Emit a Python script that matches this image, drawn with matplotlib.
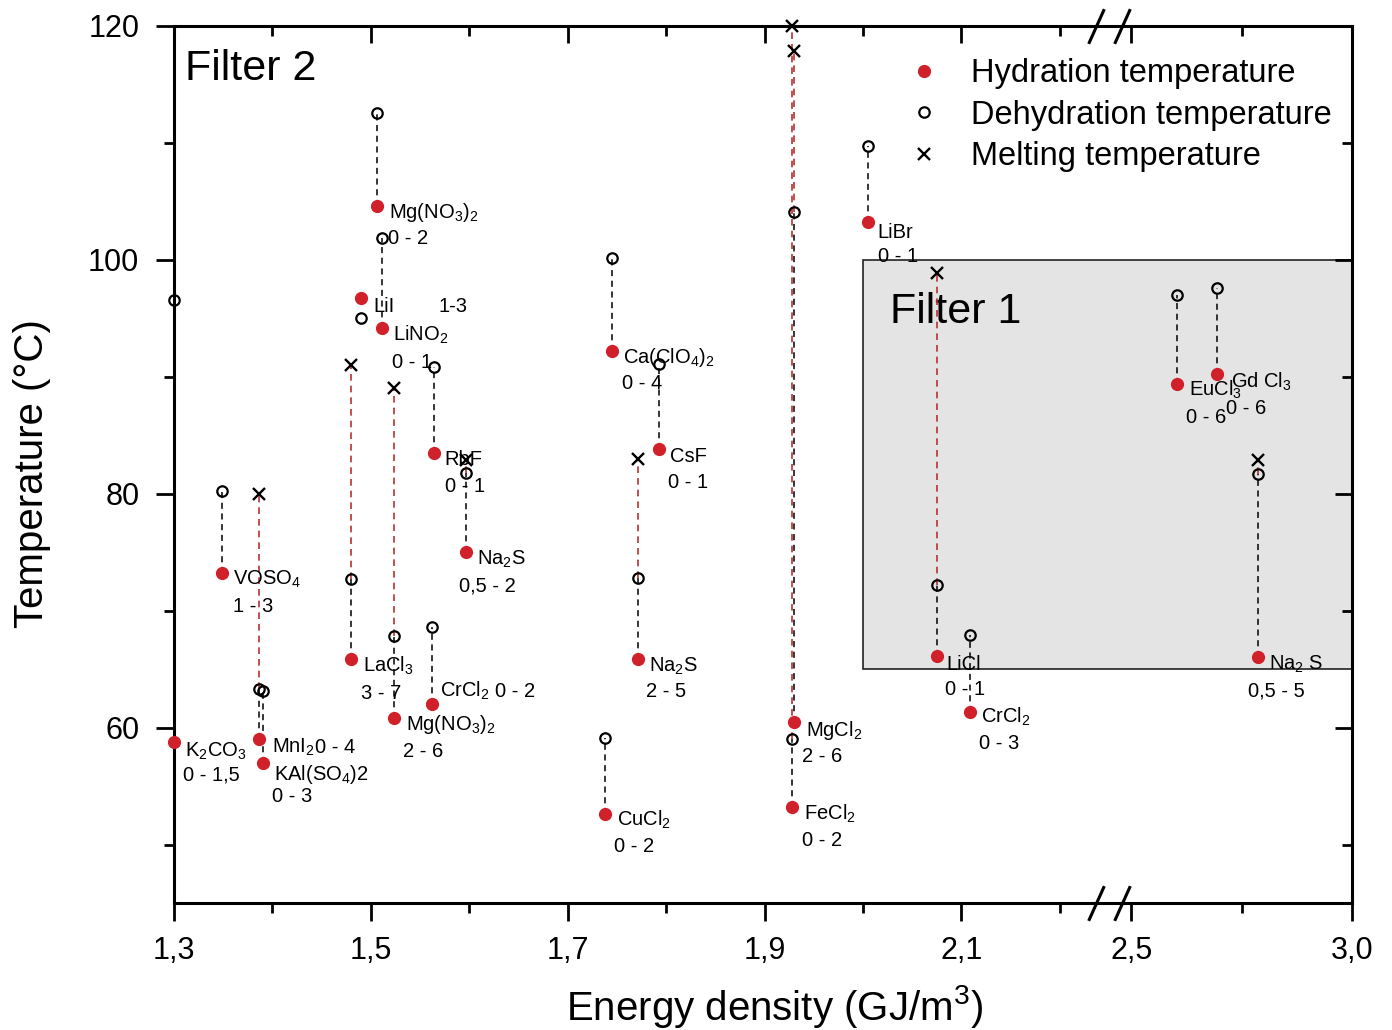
import numpy as np
import matplotlib
matplotlib.use("Agg")
import matplotlib.pyplot as plt
from matplotlib.patches import Rectangle
from matplotlib.ticker import FixedLocator, FixedFormatter

plt.rcParams["font.family"] = ["Liberation Sans", "DejaVu Sans"]
plt.rcParams["mathtext.fontset"] = "custom"
plt.rcParams["mathtext.rm"] = "Liberation Sans"
plt.rcParams["mathtext.it"] = "Liberation Sans:italic"
plt.rcParams["mathtext.bf"] = "Liberation Sans:bold"

# salt hydrates: energy density (GJ/m3), temperatures (°C), hydration steps
names = ["K$_2$CO$_3$", "VOSO$_4$", "MnI$_2$", "KAl(SO$_4$)2", "LaCl$_3$", "LiI",
         "Mg(NO$_3$)$_2$", "LiNO$_2$", "Mg(NO$_3$)$_2$", "CrCl$_2$", "RbF", "Na$_2$S",
         "CuCl$_2$", "Ca(ClO$_4$)$_2$", "Na$_2$S", "CsF", "FeCl$_2$", "MgCl$_2$",
         "LiBr", "LiCl", "CrCl$_2$", "EuCl$_3$", "Gd Cl$_3$", "Na$_2$ S"]
steps = ["0 - 1,5", "1 - 3", "0 - 4", "0 - 3", "3 - 7", "1-3",
         "0 - 2", "0 - 1", "2 - 6", "0 - 2", "0 - 1", "0,5 - 2",
         "0 - 2", "0 - 4", "2 - 5", "0 - 1", "0 - 2", "2 - 6",
         "0 - 1", "0 - 1", "0 - 3", "0 - 6", "0 - 6", "0,5 - 5"]
energy = [1.300, 1.349, 1.386, 1.390, 1.480, 1.490,
          1.506, 1.511, 1.524, 1.562, 1.564, 1.597,
          1.738, 1.745, 1.771, 1.793, 1.928, 1.930,
          2.005, 2.075, 2.109, 2.604, 2.694, 2.787]
t_hydration = [58.8, 73.25, 59.05, 57.0, 65.9, 96.7,
               104.6, 94.2, 60.85, 62.05, 83.5, 75.0,
               52.6, 92.2, 65.9, 83.85, 53.25, 60.5,
               103.25, 66.15, 61.3, 89.4, 90.2, 66.0]
t_dehydration = [96.6, 80.2, 63.3, 63.1, 72.7, 95.0,
                 112.6, 101.9, 67.8, 68.6, 90.8, 81.8,
                 59.15, 100.2, 72.8, 91.1, 59.05, 104.1,
                 109.7, 72.2, 67.95, 97.0, 97.6, 81.7]
t_melting = [np.nan, np.nan, 80.0, np.nan, 91.0, np.nan,
             np.nan, np.nan, 89.0, np.nan, np.nan, 82.9,
             np.nan, np.nan, 83.0, np.nan, 120.0, 117.9,
             np.nan, 98.9, np.nan, np.nan, np.nan, 82.9]

# label placement, pixels right/down of the hydration point
name_offsets = [(11, 15), (11, 12), (13, 14), (11, 17), (12, 13), (12, 14),
                (12, 12), (11, 13), (12, 12), (8, -7), (11, 12), (11, 12),
                (12, 12), (11, 12), (11, 13), (11, 13), (12, 13), (12, 14),
                (9, 16), (10, 14), (11, 10), (12, 12), (14, 13), (11, 12)]
step_offsets = [(9, 39), (11, 39), (56, 14), (9, 39), (10, 40), (77, 14),
                (11, 38), (10, 40), (9, 39), (63, -7), (11, 39), (-7, 39),
                (9, 38), (10, 38), (8, 38), (9, 39), (10, 39), (8, 40),
                (10, 40), (8, 39), (9, 37), (9, 39), (9, 40), (-10, 39)]

RED = "#d0202a"
RED_LINE = "#b83232"

# broken x axis: 2.25 .. 2.45 is cut out, right part compressed
BREAK_LO, BREAK_HI, SQUEEZE = 2.25, 2.45, 0.4487


def fwd(x):
    x = np.asarray(x, dtype=float)
    return np.where(x <= BREAK_LO, x,
                    BREAK_LO + np.clip(x - BREAK_HI, 0, None) * SQUEEZE)


def inv(u):
    u = np.asarray(u, dtype=float)
    return np.where(u <= BREAK_LO, u, BREAK_HI + (u - BREAK_LO) / SQUEEZE)


fig = plt.figure(figsize=(13.92, 10.30), dpi=100)
ax = fig.add_axes([174 / 1392, 1 - 903 / 1030, 1178 / 1392, 877 / 1030])
ax.set_xscale("function", functions=(fwd, inv))
ax.set_xlim(1.3, 3.0)
ax.set_ylim(45, 120)

ax.add_patch(Rectangle((2.0, 65), 1.0, 35, facecolor="#e4e4e4",
                       edgecolor="#222222", lw=1.2, zorder=0.5))

dash = (0, (4, 3))
for e, th, td, tm in zip(energy, t_hydration, t_dehydration, t_melting):
    if td > th:
        ax.plot([e, e], [th, td], color="black", ls=dash, lw=1.1, zorder=2)
    if not np.isnan(tm):
        ax.plot([e, e], [td, tm], color=RED_LINE, ls=dash, lw=1.2, zorder=2)

ax.plot(energy, t_hydration, "o", ls="none", color=RED, ms=8.5, zorder=5,
        clip_on=False, label="Hydration temperature")
ax.plot(energy, t_dehydration, "o", ls="none", mfc="none", mec="black", ms=7.5,
        mew=1.6, zorder=3, clip_on=False, label="Dehydration temperature")
ax.plot(energy, t_melting, "x", ls="none", color="black", ms=8.5, mew=1.7,
        zorder=4, clip_on=False, label="Melting temperature")

for i, (e, th) in enumerate(zip(energy, t_hydration)):
    dx, dy = name_offsets[i]
    ax.annotate(names[i], xy=(e, th), xytext=(dx, -dy), textcoords="offset pixels",
                ha="left", va="baseline", fontsize=14.5, annotation_clip=False, zorder=6)
    dx, dy = step_offsets[i]
    ax.annotate(steps[i], xy=(e, th), xytext=(dx, -dy), textcoords="offset pixels",
                ha="left", va="baseline", fontsize=14.5, annotation_clip=False, zorder=6)

ax.annotate("Filter 2", xy=(0, 1), xycoords="axes fraction", xytext=(11, -54),
            textcoords="offset pixels", va="baseline", fontsize=31)
ax.annotate("Filter 1", xy=(2.0, 100), xytext=(27, -63),
            textcoords="offset pixels", va="baseline", fontsize=31, zorder=1)

# ticks
major_x = [1.3, 1.5, 1.7, 1.9, 2.1, 2.5, 3.0]
minor_x = [1.4, 1.6, 1.8, 2.0, 2.2, 2.75]
ax.xaxis.set_major_locator(FixedLocator(major_x))
ax.xaxis.set_major_formatter(FixedFormatter([f"{v:.1f}".replace(".", ",") for v in major_x]))
ax.xaxis.set_minor_locator(FixedLocator(minor_x))
ax.yaxis.set_major_locator(FixedLocator([60, 80, 100, 120]))
ax.yaxis.set_minor_locator(FixedLocator([50, 70, 90, 110]))
ax.tick_params(which="both", direction="out", width=2.0, labelsize=22)
ax.tick_params(axis="x", pad=11)
ax.tick_params(axis="y", pad=12)
ax.tick_params(which="major", length=13)
ax.tick_params(which="minor", length=7.5)
for sp in ax.spines.values():
    sp.set_linewidth(2.2)

# mirrored ticks pointing inward on top and right
over = fig.add_axes(ax.get_position(), sharex=ax, sharey=ax, frameon=False)
over.tick_params(which="both", direction="in", width=2.0, bottom=False, left=False,
                 top=True, right=True, labelbottom=False, labelleft=False)
over.tick_params(which="major", length=12)
over.tick_params(which="minor", length=7)

# break marks
u0, u1 = fwd(1.3), fwd(3.0)
brk = (float(fwd(2.254)) - u0) / (u1 - u0)
for yy in (0, 1):
    ax.plot([brk - 0.011, brk + 0.011], [yy, yy], ls="none",
            marker=[(-0.45, -1), (0.45, 1)], ms=25, mfc="none", mec="black",
            mew=2.2, transform=ax.transAxes, clip_on=False, zorder=7)

ax.set_xlabel("Energy density (GJ/m$^3$)", fontsize=29, labelpad=12)
ax.xaxis.label.set_x(0.51)
ax.set_ylabel("Temperature (°C)", fontsize=29, labelpad=27)
ax.yaxis.label.set_y(0.49)

ax.legend(loc="upper left", bbox_to_anchor=(0.6228, 0.963), frameon=False,
          fontsize=23.5, handlelength=1.0, handletextpad=0.94, labelspacing=0.32,
          borderpad=0, borderaxespad=0, numpoints=1)

fig.savefig("out.png", dpi=100)
